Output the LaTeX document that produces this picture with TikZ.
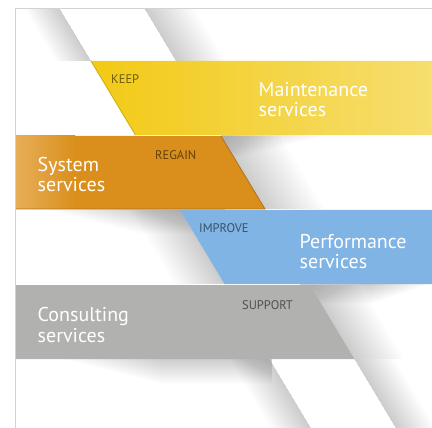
\documentclass[tikz,border=0pt]{standalone}
\usepackage{fontspec}
\setmainfont{PT Sans}
\usepackage{xcolor}
\usepackage{tikz}

\definecolor{keepyellow}{HTML}{F2CA15}
\definecolor{keeplight}{HTML}{F6DE70}
\definecolor{regainorange}{HTML}{DA8F1C}
\definecolor{regainlight}{HTML}{E7AE58}
\definecolor{improveblue}{HTML}{80B4E4}
\definecolor{supportgray}{HTML}{B1B1AF}
\definecolor{framegray}{HTML}{D2D2D2}

\tikzset{
	service/.style={anchor=base west, inner sep=0pt, align=left, text=white,
		font=\fontsize{20}{20.5}\selectfont},
	action/.style={anchor=base west, inner sep=0pt, text=black, text opacity=0.55,
		font=\fontsize{12.5}{13}\selectfont},
	softshadow/.style={fill=black, opacity=0.0065},
}

\begin{document}
\begin{tikzpicture}[x=1pt,y=-1pt]
	\useasboundingbox (0,0) rectangle (432,428);
	% corners of the slanted edges
	\coordinate (a0) at (59.5,8.5);
	\coordinate (a1) at (91,61);
	\coordinate (b0) at (144.5,8.5);
	\coordinate (b1) at (176,61);
	\coordinate (b2) at (221,136);
	\coordinate (b3) at (265,209);
	\coordinate (c0) at (180,210);
	\coordinate (c1) at (224.4,284);
	\coordinate (c2) at (269.4,359);
	\coordinate (c3) at (310.8,428);
	\coordinate (d0) at (310,285);
	\coordinate (d1) at (354.4,359);
	\coordinate (d2) at (395.8,428);

	% shadows of the white ribbon
	\foreach \d in {2,4,...,50}{
		\fill[softshadow] (a0) -- (a1) -- ([xshift=-0.7*\d pt]a1) -- ([xshift=-0.7*\d pt]a0) -- cycle;
		\fill[softshadow] (b0) -- (b1) -- ([xshift=\d pt]b1) -- ([xshift=\d pt]b0) -- cycle;
		\fill[softshadow] (b2) -- (b3) -- ([xshift=1.2*\d pt]b3) -- ([xshift=1.2*\d pt]b2) -- cycle;
		\fill[softshadow] (c0) -- (c1) -- ([xshift=-\d pt]c1) -- ([xshift=-\d pt]c0) -- cycle;
		\fill[softshadow] (d0) -- (d1) -- ([xshift=\d pt]d1) -- ([xshift=\d pt]d0) -- cycle;
		\fill[softshadow] (c2) -- (c3) -- ([xshift=-0.8*\d pt]c3) -- ([xshift=-0.8*\d pt]c2) -- cycle;
		\fill[softshadow] (d1) -- (d2) -- ([xshift=0.8*\d pt]d2) -- ([xshift=0.8*\d pt]d1) -- cycle;
		% under the bands
		\fill[softshadow] (221,135) rectangle ({330-2*\d},{135+0.5*\d});
		\fill[softshadow] ({40+2*\d},209) rectangle (225,{209+0.5*\d});
		\fill[softshadow] (300,284) rectangle ({432-1.2*\d},{284+0.4*\d});
		\fill[softshadow] ({60+2*\d},359) rectangle (272,{359+0.5*\d});
	}

	\draw[framegray, line width=1.5pt] (15.5,428) -- (15.5,8.5) -- (432,8.5);

	% bands
	\shade[left color=keepyellow, middle color=keepyellow, right color=keeplight]
		(a1) -- (432,61) -- (432,135) -- (135.4,135) -- cycle;
	\draw[keepyellow!85!black, line width=0.8pt] (a1) -- (135.4,135);
	\fill[regainorange] (16,136) -- (b2) -- (b3) -- (16,209) -- cycle;
	\shade[left color=regainlight, right color=regainorange] (16,136) rectangle (75,209);
	\draw[regainorange!80!black, line width=0.8pt] (b2) -- (b3) -- (16,209);
	\fill[improveblue] (c0) -- (432,210) -- (432,284) -- (c1) -- cycle;
	\fill[supportgray] (16,285) -- (d0) -- (d1) -- (16,359) -- cycle;

	% texts
	\node[service] (maint) at (258.5,116.7) {Maintenance\\services};
	\node[service] (system) at (37.5,191.7) {System\\services};
	\node[service] (perf) at (299.5,269) {Performance\\services};
	\node[service] (consult) at (37.5,342) {Consulting\\services};
	\node[action] (keep) at (111,84) {KEEP};
	\node[action] (regain) at (155,160) {REGAIN};
	\node[action] (improve) at (199,232.7) {IMPROVE};
	\node[action] (support) at (242,309) {SUPPORT};
\end{tikzpicture}
\end{document}
